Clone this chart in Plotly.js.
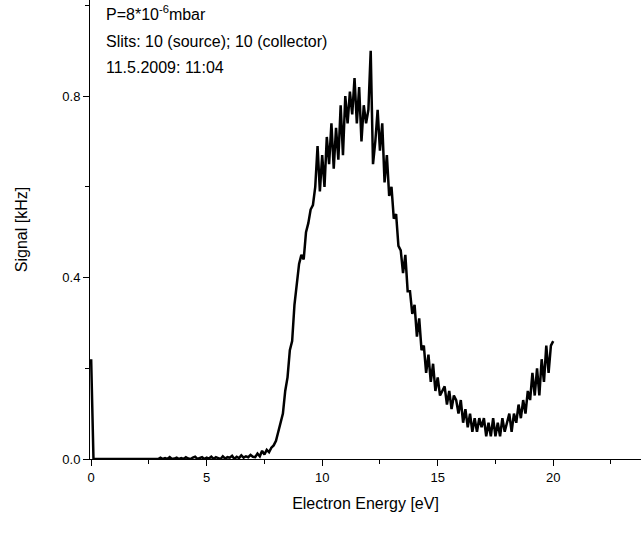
<!DOCTYPE html>
<html>
<head>
<script src="https://cdn.plot.ly/plotly-3.0.1.min.js"></script>
<style>body{margin:0;background:#fff}</style>
</head>
<body>
<div id="plot" style="width:641px;height:533px"></div>
<script>
// Signal, one value per 0.1 eV from 0 to 20 eV
var signal = [
  0.22, 0, 0, 0, 0, 0, 0, 0, 0, 0,
  0, 0, 0, 0, 0, 0, 0, 0, 0, 0,
  0, 0, 0, 0, 0, 0, 0, 0, 0, 0,
  0.003, 0, 0.002, 0, 0.004, 0, 0.001, 0.003, 0, 0.002,
  0, 0.004, 0.001, 0, 0.003, 0.005, 0, 0.002, 0.004, 0,
  0.003, 0.001, 0.005, 0, 0.004, 0.002, 0, 0.006, 0.001, 0.004,
  0.003, 0.007, 0, 0.005, 0.002, 0.008, 0.003, 0.006, 0.004, 0.009,
  0.005, 0.004, 0.012, 0.006, 0.018, 0.01, 0.02, 0.015, 0.025, 0.03,
  0.04, 0.06, 0.08, 0.1, 0.15, 0.18, 0.24, 0.26, 0.34, 0.38,
  0.43, 0.45, 0.44, 0.5, 0.52, 0.55, 0.56, 0.6, 0.69, 0.59,
  0.67, 0.6, 0.71, 0.65, 0.74, 0.64, 0.73, 0.66, 0.78, 0.67,
  0.8, 0.74, 0.81, 0.76, 0.84, 0.74, 0.82, 0.7, 0.78, 0.74,
  0.77, 0.9, 0.65, 0.7, 0.77, 0.68, 0.74, 0.61, 0.67, 0.58,
  0.6, 0.53, 0.54, 0.47, 0.46, 0.41, 0.45, 0.37, 0.37, 0.32,
  0.34, 0.27, 0.31, 0.24, 0.25, 0.19, 0.23, 0.17, 0.21, 0.15,
  0.18, 0.14, 0.15, 0.16, 0.12, 0.15, 0.11, 0.14, 0.13, 0.1,
  0.13, 0.08, 0.11, 0.07, 0.1, 0.06, 0.09, 0.06, 0.09, 0.07,
  0.09, 0.05, 0.08, 0.05, 0.09, 0.05, 0.08, 0.05, 0.09, 0.06,
  0.08, 0.1, 0.06, 0.1, 0.08, 0.12, 0.09, 0.13, 0.1, 0.15,
  0.13, 0.19, 0.14, 0.2, 0.14, 0.22, 0.17, 0.25, 0.19, 0.25,
  0.26
];
var energy = signal.map(function (v, i) { return i / 10; });

var xTickVals = [0, 5, 10, 15, 20];
var yTickVals = [0, 0.4, 0.8];
var yTickText = ['0.0', '0.4', '0.8'];

var notes = [
  'P=8*10<sup>-6</sup>mbar',
  'Slits: 10 (source); 10 (collector)',
  '11.5.2009: 11:04'
];
var noteY = [0.972, 0.91, 0.852];

var trace = {
  x: energy,
  y: signal,
  type: 'scatter',
  mode: 'lines',
  line: {color: '#000', width: 2.5},
  hoverinfo: 'none'
};

var font = 'Liberation Sans, Arial';
var axisStyle = {
  showgrid: false,
  zeroline: false,
  showline: true,
  linecolor: '#000',
  linewidth: 1,
  ticks: 'outside',
  ticklen: 6,
  tickcolor: '#000',
  tickfont: {family: font, size: 13, color: '#000'}
};

var layout = {
  width: 641,
  height: 533,
  margin: {l: 90, r: 0, t: 0, b: 74},
  paper_bgcolor: '#fff',
  plot_bgcolor: '#fff',
  showlegend: false,
  xaxis: Object.assign({}, axisStyle, {
    range: [-0.05, 23.8],
    tickvals: xTickVals,
    minor: {ticks: 'outside', ticklen: 4, tickcolor: '#000', dtick: 2.5, tick0: 0},
    title: {text: 'Electron Energy [eV]', font: {family: font, size: 16, color: '#000'}, standoff: 14}
  }),
  yaxis: Object.assign({}, axisStyle, {
    range: [0, 1.012],
    tickvals: yTickVals,
    ticktext: yTickText,
    minor: {ticks: 'outside', ticklen: 4, tickcolor: '#000', dtick: 0.2, tick0: 0},
    title: {text: 'Signal [kHz]', font: {family: font, size: 16, color: '#000'}, standoff: 30}
  }),
  annotations: notes.map(function (t, i) {
    return {
      text: t, xref: 'paper', yref: 'paper', x: 0.025, y: noteY[i],
      xanchor: 'left', yanchor: 'middle', showarrow: false,
      font: {family: font, size: 16, color: '#000'}
    };
  })
};

Plotly.newPlot('plot', [trace], layout, {displayModeBar: false, staticPlot: true});
</script>
</body>
</html>
